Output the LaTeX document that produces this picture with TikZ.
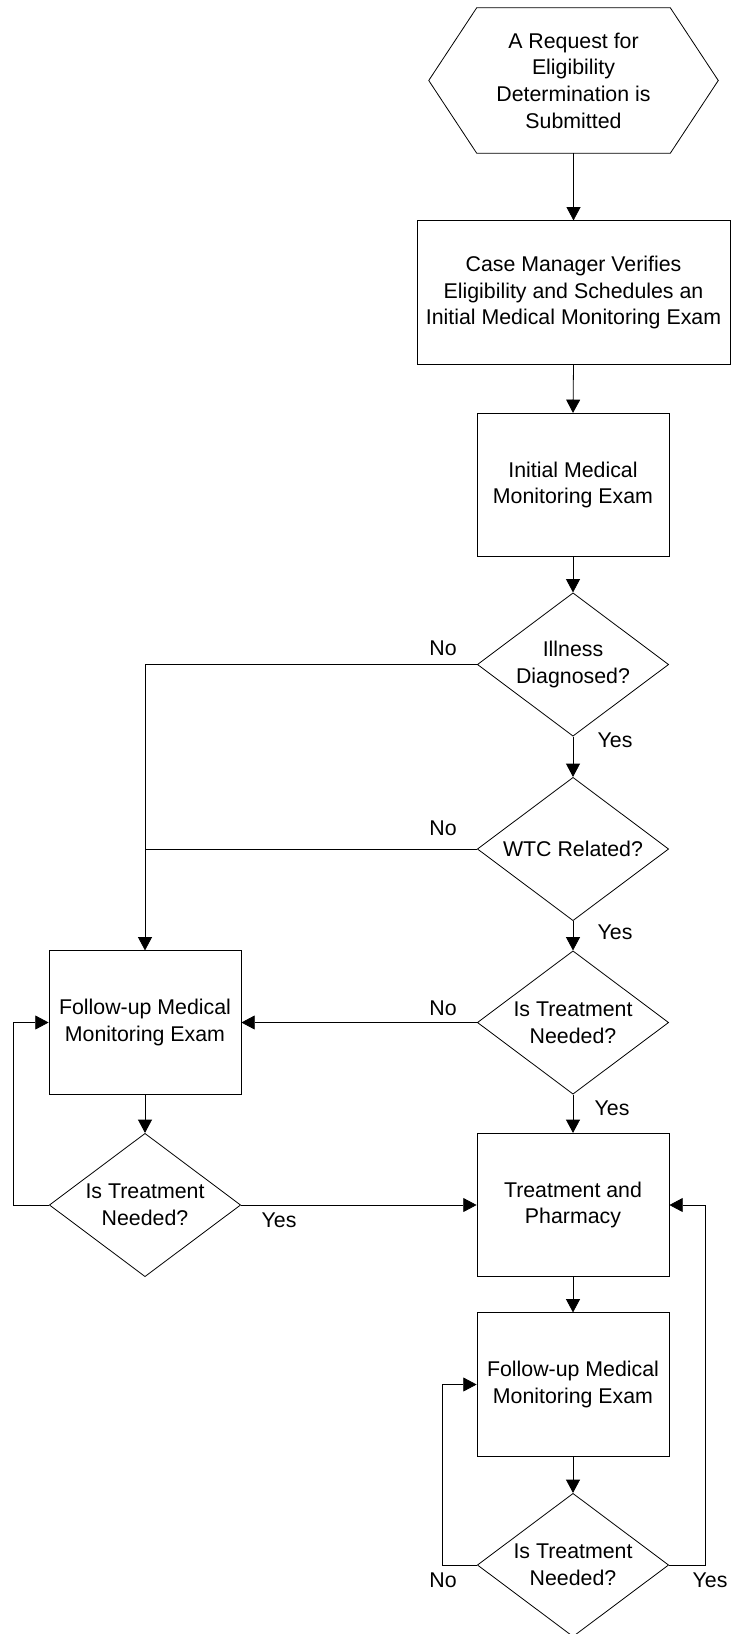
\documentclass[tikz,border=0pt]{standalone}
\usepackage{fontspec}
\setmainfont{Liberation Sans}
\usetikzlibrary{shapes.geometric,arrows.meta,calc}
\begin{document}
\begin{tikzpicture}[x=0.75pt,y=-0.75pt,
  every node/.style={font=\fontsize{16}{20}\selectfont},
  box/.style={draw,rectangle,minimum width=144pt,minimum height=107.5pt,inner sep=0pt,align=center,line width=0.6pt},
  dec/.style={draw,diamond,aspect=1.34,minimum width=143.5pt,minimum height=107.5pt,inner sep=0pt,align=center,line width=0.6pt},
  lbl/.style={inner sep=0pt},
  conn/.style={line width=0.6pt,-{Triangle[length=10pt,width=10.5pt]}},
  plain/.style={line width=0.6pt}]
\useasboundingbox (0,0) rectangle (732,1634);

% start hexagon
\node[align=center,minimum width=216.75pt,minimum height=108.75pt,inner sep=0pt] (start) at (573.5,80.5) {A Request for\\Eligibility\\Determination is\\Submitted};
\draw[plain] (start.west) -- ($(start.north west)+(48,0)$) -- ($(start.north east)+(-48,0)$) -- (start.east) -- ($(start.south east)+(-48,0)$) -- ($(start.south west)+(48,0)$) -- cycle;

\node[box,minimum width=234.75pt] (verify) at (573.5,292.5) {Case Manager Verifies\\Eligibility and Schedules an\\Initial Medical Monitoring Exam};
\node[box] (initial) at (573,485) {Initial Medical\\Monitoring Exam};
\node[dec] (d1) at (573,664.5) {Illness\\Diagnosed?};
\node[dec] (d2) at (573,849) {WTC Related?};
\node[dec] (d3) at (573,1022.5) {Is Treatment\\Needed?};
\node[box] (follow1) at (145,1022.5) {Follow-up Medical\\Monitoring Exam};
\node[dec] (d4) at (145,1205) {Is Treatment\\Needed?};
\node[box] (treat) at (573,1205) {Treatment and\\Pharmacy};
\node[box] (follow2) at (573,1384.5) {Follow-up Medical\\Monitoring Exam};
\node[dec] (d5) at (573,1565) {Is Treatment\\Needed?};

\coordinate (loopL) at (13,0);
\coordinate (loopM) at (442,0);
\coordinate (loopR) at (705,0);

\draw[conn] (start.south) -- (verify.north);
\draw[conn] (verify.south) -- (initial.north);
\draw[conn] (initial.south) -- (d1.north);
\draw[conn] (d1.south) -- (d2.north);
\draw[conn] (d1.west) -| (follow1.north);
\draw[plain] (d2.west) -- (d2.west -| follow1.north);
\draw[conn] (d2.south) -- (d3.north);
\draw[conn] (d3.west) -- (follow1.east);
\draw[conn] (d3.south) -- (treat.north);
\draw[conn] (follow1.south) -- (d4.north);
\draw[conn] (d4.east) -- (treat.west);
\draw[conn] (d4.west) -- (d4.west -| loopL) -- (follow1.west -| loopL) -- (follow1.west);
\draw[conn] (treat.south) -- (follow2.north);
\draw[conn] (follow2.south) -- (d5.north);
\draw[conn] (d5.west) -- (d5.west -| loopM) -- (follow2.west -| loopM) -- (follow2.west);
\draw[conn] (d5.east) -- (d5.east -| loopR) -- (treat.east -| loopR) -- (treat.east);

\node[lbl] (n1) at (443,648) {No};
\node[lbl] (y1) at (615,740) {Yes};
\node[lbl] (n2) at (443,828) {No};
\node[lbl] (y2) at (615,932) {Yes};
\node[lbl] (n3) at (443,1008) {No};
\node[lbl] (y3) at (612,1108) {Yes};
\node[lbl] (y4) at (279,1220) {Yes};
\node[lbl] (n5) at (443,1580) {No};
\node[lbl] (y5) at (710,1580) {Yes};
\end{tikzpicture}
\end{document}
